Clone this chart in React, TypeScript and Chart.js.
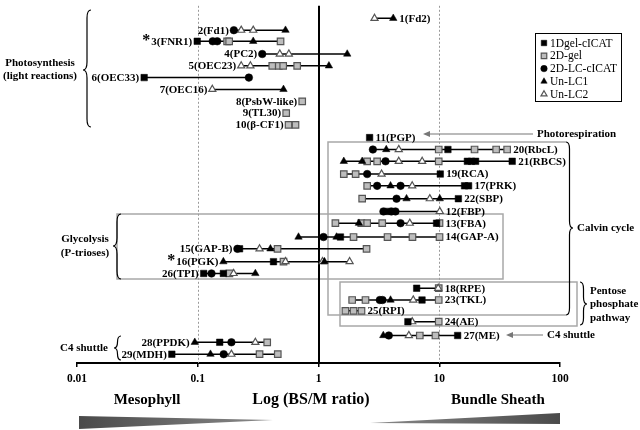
import React, { useEffect, useRef } from "react";
import { Chart, registerables } from "chart.js";

Chart.register(...registerables);

const FONT = '"Liberation Serif", "Times New Roman", serif';

// Proteins, top to bottom
const proteins = [
  "1(Fd2)", "2(Fd1)", "3(FNR1)", "4(PC2)", "5(OEC23)", "6(OEC33)", "7(OEC16)",
  "8(PsbW-like)", "9(TL30)", "10(β-CF1)", "11(PGP)", "20(RbcL)", "21(RBCS)",
  "19(RCA)", "17(PRK)", "22(SBP)", "12(FBP)", "13(FBA)", "14(GAP-A)",
  "15(GAP-B)", "16(PGK)", "26(TPI)", "18(RPE)", "23(TKL)", "25(RPI)",
  "24(AE)", "27(ME)", "28(PPDK)", "29(MDH)",
];
// vertical slot of each protein row (hidden linear y axis, 0..30)
const rowSlot = [
  1.05, 2.05, 2.98, 4.05, 5.04, 6.03, 7.02, 8.02, 9.01, 10.0, 11.07, 12.07, 13.06,
  14.13, 15.12, 16.2, 17.27, 18.26, 19.42, 20.41, 21.49, 22.48, 23.72, 24.71,
  25.62, 26.53, 27.69, 28.26, 29.26,
];
const starred = ["3(FNR1)", "16(PGK)"];

const tickValues = [0.01, 0.1, 1, 10, 100];
const tickLabels = ["0.01", "0.1", "1", "10", "100"];

const methodNames = ["1Dgel-cICAT", "2D-gel", "2D-LC-cICAT", "Un-LC1", "Un-LC2"];

// BS/M ratios per protein row, per method
const gel1D: number[][] = [
  [], [], [0.099], [], [], [0.036], [], [], [], [], [2.65], [11.8],
  [17.1, 18.5, 20.0, 40.2], [10.2], [16.2, 17.5], [14.4], [3.73], [9.5], [1.52],
  [0.222], [0.424], [0.112, 0.163], [6.5], [7.2], [], [5.5], [14.2], [0.152], [0.061],
];
const gel2D: number[][] = [
  [], [], [0.175, 0.182, 0.485], [], [0.414, 0.469, 0.51, 0.666], [], [], [0.733],
  [0.54], [0.565, 0.645], [], [9.9, 19.6, 29.6, 36.5], [2.53, 3.06, 9.9], [1.62, 2.03],
  [2.53], [2.3], [], [1.38, 2.26, 2.53, 3.37, 10.05], [1.95, 3.73, 6.0, 10.05],
  [0.458, 2.5], [0.513], [0.183], [9.9], [1.9, 2.45, 9.9], [1.67, 1.95, 2.27], [9.9],
  [6.9, 9.3], [0.376], [0.325, 0.46],
];
const lc2D: number[][] = [
  [], [0.199], [0.133, 0.145], [0.342], [], [0.265], [], [], [], [], [], [2.82],
  [3.59], [2.53], [3.06, 4.78], [4.43], [3.45, 4.02, 4.34], [4.78], [1.1], [0.213],
  [], [0.13], [], [3.22, 3.39], [], [], [3.82], [0.19], [0.164],
];
const unLC1: number[][] = [
  [4.16], [0.533], [0.288], [1.73], [1.22], [], [0.513], [], [], [], [], [3.64],
  [1.62, 2.3], [], [3.95], [5.36, 10.1], [], [2.16], [0.683, 1.41], [0.4],
  [0.163, 1.12], [0.3], [], [3.95], [], [], [3.44], [0.0945], [0.1275],
];
const unLC2: number[][] = [
  [2.91], [0.229, 0.288], [], [0.478, 0.568], [0.229, 0.273], [], [0.132], [], [], [],
  [], [4.62], [4.62, 7.22], [3.33], [5.97], [8.35], [10.1], [5.7], [], [0.325],
  [0.533, 1.08, 1.81], [0.198], [9.8], [6.09], [], [5.97], [5.6], [0.3], [0.19],
];

const methodValues = [gel1D, gel2D, lc2D, unLC1, unLC2];
const methodStyles = [
  { shape: "rect", fill: "#000000", stroke: "#000000", bw: 0.5, r: 4.6 },
  { shape: "rect", fill: "#bdbdbd", stroke: "#555555", bw: 1.2, r: 4.6 },
  { shape: "circle", fill: "#000000", stroke: "#000000", bw: 0.5, r: 3.8 },
  { shape: "triangle", fill: "#000000", stroke: "#000000", bw: 0.5, r: 4.3 },
  { shape: "triangle", fill: "#ffffff", stroke: "#555555", bw: 1.2, r: 4.1 },
];

function drawMarker(ctx: CanvasRenderingContext2D, st: any, x: number, y: number, r: number) {
  ctx.fillStyle = st.fill;
  ctx.strokeStyle = st.stroke;
  ctx.lineWidth = st.bw;
  ctx.beginPath();
  if (st.shape === "rect") {
    const s = r * Math.SQRT1_2;
    ctx.rect(x - s, y - s, 2 * s, 2 * s);
  } else if (st.shape === "circle") {
    ctx.arc(x, y, r, 0, Math.PI * 2);
  } else {
    ctx.moveTo(x, y - r);
    ctx.lineTo(x + r * 0.866, y + r * 0.5);
    ctx.lineTo(x - r * 0.866, y + r * 0.5);
    ctx.closePath();
  }
  ctx.fill();
  ctx.stroke();
}

function brace(ctx: CanvasRenderingContext2D, x: number, y1: number, y2: number, ym: number, w: number, d: number) {
  const r = Math.min(w, (y2 - y1) / 4);
  const xm = x + (d * w) / 2;
  ctx.beginPath();
  ctx.moveTo(x, y1);
  ctx.quadraticCurveTo(xm, y1, xm, y1 + r);
  ctx.lineTo(xm, ym - r);
  ctx.quadraticCurveTo(xm, ym, x + d * w, ym);
  ctx.quadraticCurveTo(xm, ym, xm, ym + r);
  ctx.lineTo(xm, y2 - r);
  ctx.quadraticCurveTo(xm, y2, x, y2);
  ctx.stroke();
}

function arrowLeft(ctx: CanvasRenderingContext2D, xTail: number, xHead: number, y: number) {
  ctx.strokeStyle = "#777";
  ctx.fillStyle = "#777";
  ctx.lineWidth = 1.2;
  ctx.beginPath();
  ctx.moveTo(xTail, y);
  ctx.lineTo(xHead + 4, y);
  ctx.stroke();
  ctx.beginPath();
  ctx.moveTo(xHead, y);
  ctx.lineTo(xHead + 7, y - 3);
  ctx.lineTo(xHead + 7, y + 3);
  ctx.closePath();
  ctx.fill();
}

const decor = {
  id: "decor",
  beforeDatasetsDraw(chart: any) {
    const { ctx, chartArea, scales } = chart;
    const x = scales.x;
    ctx.save();
    ctx.strokeStyle = "#a8a8a8";
    ctx.lineWidth = 1.5;
    // Calvin cycle box (closed by brace)
    ctx.beginPath();
    ctx.moveTo(566, 142);
    ctx.lineTo(328, 142);
    ctx.lineTo(328, 315);
    ctx.lineTo(566, 315);
    ctx.stroke();
    // Glycolysis box
    ctx.strokeRect(117, 214, 386, 65);
    // Pentose phosphate box
    ctx.strokeRect(340, 282, 237, 44);
    // dashed reference lines
    ctx.strokeStyle = "#9a9a9a";
    ctx.lineWidth = 1;
    ctx.setLineDash([2, 2]);
    [0.1, 10].forEach((v) => {
      const px = Math.round(x.getPixelForValue(v)) + 0.5;
      ctx.beginPath();
      ctx.moveTo(px, chartArea.top);
      ctx.lineTo(px, chartArea.bottom);
      ctx.stroke();
    });
    ctx.setLineDash([]);
    ctx.strokeStyle = "#000";
    ctx.lineWidth = 2;
    const p1 = Math.round(x.getPixelForValue(1));
    ctx.beginPath();
    ctx.moveTo(p1, chartArea.top);
    ctx.lineTo(p1, chartArea.bottom);
    ctx.stroke();
    ctx.restore();
  },
  afterDatasetsDraw(chart: any) {
    const { ctx, scales } = chart;
    const x = scales.x;
    const y = scales.y;
    ctx.save();
    ctx.fillStyle = "#000";
    // row labels
    proteins.forEach((name, i) => {
      const vals = methodValues.flatMap((m) => m[i]);
      const mn = Math.min(...vals);
      const mx = Math.max(...vals);
      const py = y.getPixelForValue(rowSlot[i]) + 0.5;
      ctx.font = `bold 11px ${FONT}`;
      ctx.textBaseline = "middle";
      if (Math.sqrt(mn * mx) < 1) {
        ctx.textAlign = "right";
        const ex = x.getPixelForValue(mn) - 5;
        ctx.fillText(name, ex, py);
        if (starred.includes(name)) {
          const w = ctx.measureText(name).width;
          ctx.font = `bold 16px ${FONT}`;
          ctx.fillText("*", ex - w - 1, py - 1);
        }
      } else {
        ctx.textAlign = "left";
        ctx.fillText(name, x.getPixelForValue(mx) + 6, py);
      }
    });

    // group braces
    ctx.strokeStyle = "#000";
    ctx.lineWidth = 1.2;
    brace(ctx, 91, 10, 127, 70, 8, -1);
    brace(ctx, 121, 214, 279, 246, 8, -1);
    brace(ctx, 121, 336, 360, 348, 7, -1);
    brace(ctx, 566, 142, 315, 228, 7, 1);
    brace(ctx, 580, 282, 325, 304, 7, 1);

    // group texts
    ctx.font = `bold 11px ${FONT}`;
    ctx.textBaseline = "middle";
    ctx.textAlign = "center";
    ctx.fillText("Photosynthesis", 40, 63);
    ctx.fillText("(light reactions)", 40, 76);
    ctx.fillText("Glycolysis", 85, 239);
    ctx.fillText("(P-trioses)", 85, 253);
    ctx.fillText("C4 shuttle", 84, 348);
    ctx.textAlign = "left";
    ctx.fillText("Calvin cycle", 577, 228);
    ctx.fillText("Pentose", 590, 291);
    ctx.fillText("phosphate", 590, 304);
    ctx.fillText("pathway", 590, 318);
    ctx.fillText("Photorespiration", 537, 134);
    ctx.fillText("C4 shuttle", 547, 335);

    arrowLeft(ctx, 533, 423, 134);
    arrowLeft(ctx, 543, 506, 335);

    // legend
    ctx.strokeStyle = "#000";
    ctx.lineWidth = 1;
    ctx.strokeRect(535.5, 33.5, 86, 68);
    ctx.font = `11.5px ${FONT}`;
    ctx.textAlign = "left";
    methodNames.forEach((nm, i) => {
      const ly = 43 + i * 12.8;
      drawMarker(ctx, methodStyles[i], 544, ly, methodStyles[i].r * 0.85);
      ctx.fillStyle = "#000";
      ctx.fillText(nm, 550, ly + 0.5);
    });

    // bottom captions
    ctx.fillStyle = "#000";
    ctx.textAlign = "center";
    ctx.font = `bold 15px ${FONT}`;
    ctx.fillText("Mesophyll", 147, 400);
    ctx.fillText("Bundle Sheath", 498, 400);
    ctx.font = `bold 16px ${FONT}`;
    ctx.fillText("Log (BS/M ratio)", 311, 400);

    // wedges
    let g = ctx.createLinearGradient(79, 0, 273, 0);
    g.addColorStop(0, "#4a4a4a");
    g.addColorStop(1, "#8a8a8a");
    ctx.fillStyle = g;
    ctx.beginPath();
    ctx.moveTo(79, 416);
    ctx.lineTo(273, 420);
    ctx.lineTo(79, 429);
    ctx.closePath();
    ctx.fill();
    g = ctx.createLinearGradient(370, 0, 560, 0);
    g.addColorStop(0, "#8a8a8a");
    g.addColorStop(1, "#4a4a4a");
    ctx.fillStyle = g;
    ctx.beginPath();
    ctx.moveTo(370, 423);
    ctx.lineTo(560, 413);
    ctx.lineTo(560, 424);
    ctx.closePath();
    ctx.fill();
    ctx.restore();
  },
};

export default function App() {
  const ref = useRef<HTMLCanvasElement | null>(null);
  useEffect(() => {
    if (!ref.current) return;
    const datasets: any[] = [];
    proteins.forEach((name, i) => {
      const vals = methodValues.flatMap((m) => m[i]);
      if (vals.length < 2) return;
      datasets.push({
        label: name,
        data: [
          { x: Math.min(...vals), y: rowSlot[i] },
          { x: Math.max(...vals), y: rowSlot[i] },
        ],
        showLine: true,
        borderColor: "#000",
        borderWidth: 1.5,
        pointRadius: 0,
        order: 10,
      });
    });
    const drawOrder = [1, 4, 3, 2, 0];
    drawOrder.forEach((k, j) => {
      const st = methodStyles[k];
      const data: any[] = [];
      methodValues[k].forEach((vals, i) => vals.forEach((v) => data.push({ x: v, y: rowSlot[i] })));
      datasets.push({
        label: methodNames[k],
        data,
        showLine: false,
        pointStyle: st.shape,
        pointRadius: st.r,
        pointBackgroundColor: st.fill,
        pointBorderColor: st.stroke,
        pointBorderWidth: st.bw,
        order: 5 - j,
      });
    });
    const chart = new Chart(ref.current, {
      type: "scatter",
      data: { datasets },
      options: {
        animation: false,
        responsive: false,
        events: [],
        layout: { padding: { left: 77, right: 80, top: 0, bottom: 0 } },
        plugins: { legend: { display: false }, tooltip: { enabled: false } },
        scales: {
          x: {
            type: "logarithmic",
            min: 0.01,
            max: 100,
            afterBuildTicks: (s: any) => {
              s.ticks = tickValues.map((v) => ({ value: v }));
            },
            afterFit: (s: any) => {
              s.height = 67;
            },
            ticks: {
              autoSkip: false,
              maxRotation: 0,
              padding: 5,
              color: "#000",
              font: { family: FONT, weight: "bold", size: 11.5 },
              callback: (v: any) => {
                const k = tickValues.indexOf(Number(v));
                return k >= 0 ? tickLabels[k] : "";
              },
            },
            grid: { drawOnChartArea: false, drawTicks: true, tickLength: 4, color: "#000", lineWidth: 1.5 },
            border: { display: true, color: "#000", width: 2 },
          },
          y: { type: "linear", min: 0, max: 30, reverse: true, display: false },
        },
      },
      plugins: [decor],
    } as any);
    return () => chart.destroy();
  }, []);
  return (
    <div style={{ position: "absolute", left: 0, top: 0, width: 640, height: 430, background: "#fff" }}>
      <canvas ref={ref} width={640} height={430} />
    </div>
  );
}
